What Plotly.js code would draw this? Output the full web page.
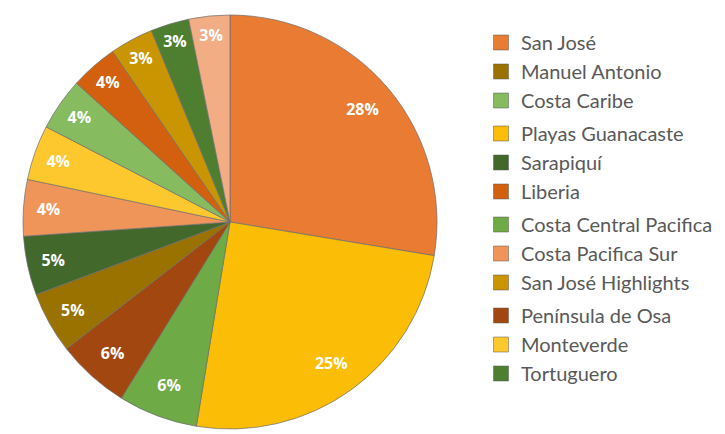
<!DOCTYPE html>
<html>
<head>
<meta charset="utf-8">
<script src="https://cdn.plot.ly/plotly-3.0.1.min.js"></script>
<style>html,body{margin:0;padding:0;background:#fff;}#chart{width:725px;height:434px;}</style>
</head>
<body>
<div id="chart"></div>
<script>
// Slice order (clockwise from 12 o'clock)
const regions = ["San José", "Playas Guanacaste", "Costa Central Pacifica", "Península de Osa",
  "Manuel Antonio", "Sarapiquí", "Costa Pacifica Sur", "Monteverde", "Costa Caribe",
  "Liberia", "San José Highlights", "Tortuguero", "Otros"];
const shares = [27.6, 25.0, 6.2, 5.7, 4.8, 4.6, 4.4, 4.3, 4.1, 3.7, 3.4, 3.0, 3.2];
const sliceColors = ["#E97B33", "#FBBD05", "#6EAA45", "#A2470F", "#9A7200", "#42682B",
  "#F0955A", "#FDC72E", "#86BB60", "#D3600F", "#C99500", "#4E7F30", "#F2AD84"];
// Legend order as shown in the reference
const legendOrder = ["San José", "Manuel Antonio", "Costa Caribe",
  "Playas Guanacaste", "Sarapiquí", "Liberia",
  "Costa Central Pacifica", "Costa Pacifica Sur", "San José Highlights",
  "Península de Osa", "Monteverde", "Tortuguero"];

const pieDomain = {x: [23/725, 437/725], y: [0, 1]};

const pie = {
  type: "pie",
  labels: regions,
  values: shares,
  sort: false,
  direction: "clockwise",
  rotation: 0,
  marker: {colors: sliceColors, line: {color: "rgba(110,110,110,0.7)", width: 1}},
  textinfo: "none",
  domain: pieDomain,
  showlegend: false,
  hoverinfo: "label+percent"
};

// Transparent ring carrying the percentage labels near the rim
const labelRing = {
  type: "pie",
  labels: regions,
  values: shares,
  sort: false,
  direction: "clockwise",
  rotation: 0,
  hole: 0.68,
  marker: {colors: regions.map(() => "rgba(0,0,0,0)"), line: {width: 0}},
  texttemplate: "%{percent:.0%}",
  textposition: "inside",
  insidetextorientation: "horizontal",
  textfont: {family: "Open Sans, sans-serif", size: 16, color: "#ffffff", weight: "bold"},
  domain: pieDomain,
  showlegend: false,
  hoverinfo: "skip"
};

const legendTraces = legendOrder.map((name, i) => {
  const c = sliceColors[regions.indexOf(name)];
  return {
    type: "scatter", mode: "markers", x: [null], y: [null], name: name,
    legendgroup: "g" + Math.floor(i / 3),
    marker: {symbol: "square", size: 15, color: c, line: {color: "rgba(90,90,90,0.5)", width: 1}},
    showlegend: true, hoverinfo: "skip"
  };
});

const layout = {
  width: 725, height: 434,
  margin: {l: 0, r: 0, t: 15, b: 5},
  paper_bgcolor: "#ffffff", plot_bgcolor: "#ffffff",
  xaxis: {visible: false}, yaxis: {visible: false},
  showlegend: true,
  legend: {
    x: 481/725, y: 1 - (23 - 15)/414, xanchor: "left", yanchor: "top",
    font: {family: "Lato, Open Sans, sans-serif", size: 20, color: "#595959"},
    traceorder: "grouped", tracegroupgap: 4,
    bgcolor: "rgba(0,0,0,0)", borderwidth: 0
  }
};

Plotly.newPlot("chart", [pie, labelRing].concat(legendTraces), layout, {displayModeBar: false, staticPlot: true});
</script>
</body>
</html>
